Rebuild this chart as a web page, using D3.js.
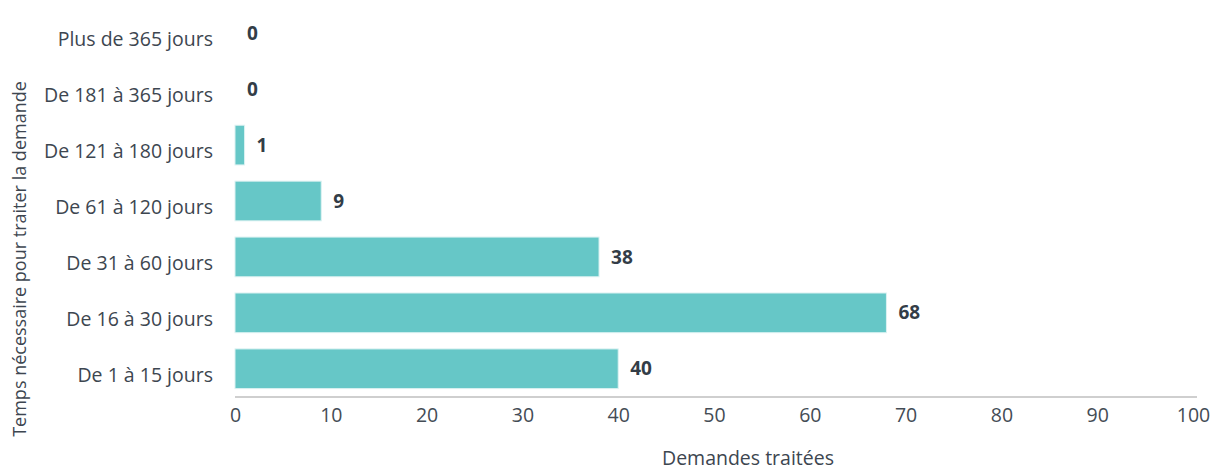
<!DOCTYPE html>
<html>
<head>
<meta charset="utf-8">
<script src="https://cdn.jsdelivr.net/npm/d3@7"></script>
<style>
  body { margin: 0; background: #fff; }
  text { font-family: "Open Sans", sans-serif; }
</style>
</head>
<body>
<script>
var w = 1222;
var h = 470;

var categories = ["Plus de 365 jours", "De 181 à 365 jours", "De 121 à 180 jours",
    "De 61 à 120 jours", "De 31 à 60 jours", "De 16 à 30 jours", "De 1 à 15 jours"];
var values = [0, 0, 1, 9, 38, 68, 40];
var xTicks = [0, 10, 20, 30, 40, 50, 60, 70, 80, 90, 100];

var svg = d3.select("body")
    .append("svg")
    .attr("width", w)
    .attr("height", h);

var xScale = d3.scaleLinear()
    .domain([0, 100])
    .range([235, 1193]);

var yScale = d3.scaleBand()
    .domain(categories)
    .range([5, 397])
    .paddingInner(0.29)
    .paddingOuter(0.15);

// bars (zero values still leave a faint sliver)
svg.selectAll("rect.bar")
    .data(values)
    .enter()
    .append("rect")
    .attr("class", "bar")
    .attr("x", xScale(0))
    .attr("y", function(d, i) { return yScale(categories[i]); })
    .attr("width", function(d) { return xScale(d) - xScale(0); })
    .attr("height", yScale.bandwidth())
    .style("fill", "#66c7c7")
    .style("stroke", "#dcf2f2")
    .style("stroke-width", 1);

// value labels
svg.selectAll("text.val")
    .data(values)
    .enter()
    .append("text")
    .attr("class", "val")
    .attr("x", function(d) { return xScale(d) + 12; })
    .attr("y", function(d, i) { return yScale(categories[i]) + yScale.bandwidth() / 2; })
    .attr("dy", "0.35em")
    .style("font-size", "19px")
    .style("font-weight", "bold")
    .style("fill", "#333d47")
    .text(function(d) { return d; });

// category labels
svg.selectAll("text.cat")
    .data(categories)
    .enter()
    .append("text")
    .attr("class", "cat")
    .attr("x", 213)
    .attr("y", function(d) { return yScale(d) + yScale.bandwidth() / 2 + 6; })
    .attr("dy", "0.35em")
    .attr("text-anchor", "end")
    .style("font-size", "19.5px")
    .style("fill", "#3d4650")
    .text(function(d) { return d; });

// x axis
var xAxis = d3.axisBottom(xScale)
    .tickValues(xTicks)
    .tickSize(0)
    .tickPadding(11);

var gx = svg.append("g")
    .attr("transform", "translate(0," + 397 + ")")
    .call(xAxis);

gx.select(".domain")
    .attr("d", "M" + xScale(0) + ",0H1197")
    .style("stroke", "#cfcfcf")
    .style("stroke-width", 2);

gx.selectAll("text")
    .style("font-size", "19.5px")
    .style("font-family", "'Open Sans', sans-serif")
    .style("fill", "#444c55");

// axis titles
svg.append("text")
    .attr("x", 748)
    .attr("y", 465)
    .attr("text-anchor", "middle")
    .style("font-size", "19.5px")
    .style("fill", "#3d4650")
    .text("Demandes traitées");

svg.append("text")
    .attr("transform", "translate(26,259) rotate(-90)")
    .attr("text-anchor", "middle")
    .style("font-size", "18px")
    .style("fill", "#3d4650")
    .text("Temps nécessaire pour traiter la demande");
</script>
</body>
</html>
